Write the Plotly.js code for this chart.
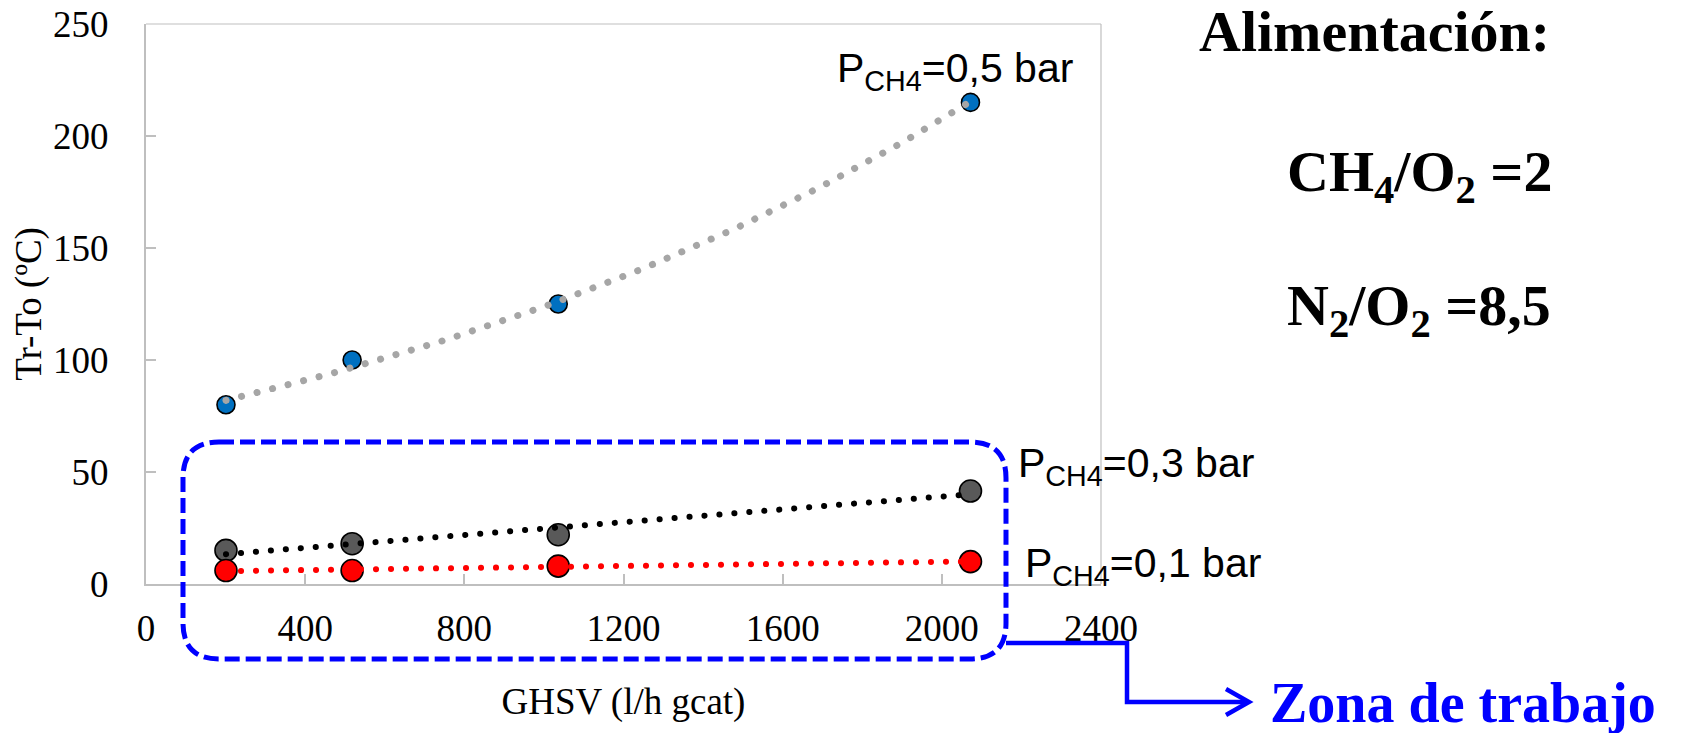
<!DOCTYPE html>
<html><head><meta charset="utf-8">
<script src="https://cdn.plot.ly/plotly-3.0.1.min.js"></script>
<style>
html,body{margin:0;padding:0;background:#fff;}
#chart{width:1687px;height:733px;}
.scatterlayer .js-line{stroke-linecap:round;}
</style></head>
<body><div id="chart"></div>
<script>
// ---- data ----
const ghsv   = [201, 518, 1036, 2072];          // GHSV (l/h gcat)
const dT_05  = [80, 100, 125, 215];             // Tr-To (ºC), PCH4 = 0,5 bar
const dT_03  = [15, 18, 22, 41.5];              // PCH4 = 0,3 bar
const dT_01  = [6, 6, 8, 10];                   // PCH4 = 0,1 bar
const seriesLabels = ['P<sub>CH4</sub>=0,5 bar', 'P<sub>CH4</sub>=0,3 bar', 'P<sub>CH4</sub>=0,1 bar'];
const xTicks = [0, 400, 800, 1200, 1600, 2000, 2400];
const yTicks = [0, 50, 100, 150, 200, 250];
const feedTitle = 'Alimentación:';
const feedRatios = ['CH<sub>4</sub>/O<sub>2</sub> =2', 'N<sub>2</sub>/O<sub>2</sub> =8,5'];
const zoneLabel = 'Zona de trabajo';
const xTitle = 'GHSV (l/h gcat)';
const yTitle = 'Tr-To (ºC)';

// ---- least-squares trendlines (as in the spreadsheet) ----
function linFit(x, y) {
  const n = x.length, mx = x.reduce((a,b)=>a+b,0)/n, my = y.reduce((a,b)=>a+b,0)/n;
  let sxy = 0, sxx = 0;
  for (let i = 0; i < n; i++) { sxy += (x[i]-mx)*(y[i]-my); sxx += (x[i]-mx)*(x[i]-mx); }
  const b = sxy/sxx; return {a: my - b*mx, b: b};
}
function expFit(x, y) {
  const f = linFit(x, y.map(Math.log)); return {a: Math.exp(f.a), b: f.b};
}
function sampleX(x, n) {
  const lo = Math.min(...x), hi = Math.max(...x), out = [];
  for (let i = 0; i <= n; i++) out.push(lo + (hi-lo)*i/n);
  return out;
}
const eF = expFit(ghsv, dT_05);
const tx5 = sampleX(ghsv, 80), ty5 = tx5.map(v => eF.a*Math.exp(eF.b*v));
const l3 = linFit(ghsv, dT_03), l1 = linFit(ghsv, dT_01);
const txL = sampleX(ghsv, 1);
const ty3 = txL.map(v => l3.a + l3.b*v), ty1 = txL.map(v => l1.a + l1.b*v);

const mk = (c, s) => ({color: c, size: s, line: {color: '#000', width: 1.6}});
const traces = [
  {x: ghsv, y: dT_05, mode: 'markers', marker: mk('#0070C0', 18), name: '0,5 bar'},
  {x: ghsv, y: dT_03, mode: 'markers', marker: mk('#595959', 22), name: '0,3 bar'},
  {x: ghsv, y: dT_01, mode: 'markers', marker: mk('#FF0000', 22), name: '0,1 bar'},
  {x: tx5, y: ty5, mode: 'lines', line: {color: '#A6A6A6', width: 7, dash: '0.1px,15.9px'}, name: 'exp 0,5'},
  {x: txL, y: ty3, mode: 'lines', line: {color: '#000000', width: 6, dash: '0.1px,14.9px'}, name: 'lin 0,3'},
  {x: txL, y: ty1, mode: 'lines', line: {color: '#FF0000', width: 6, dash: '0.1px,14.9px'}, name: 'lin 0,1'}
];

// ---- layout (pixel helpers for decorations) ----
const W = 1687, H = 733, L = 146, R = 1101, T = 24, B = 584;
const px = p => (p - L)/(R - L);
const py = p => (B - p)/(B - T);
const P = (x, y) => px(x).toFixed(5) + ',' + py(y).toFixed(5);

const bx0 = 183, bx1 = 1006, by0 = 442, by1 = 659, rr = 36;
const boxPath = 'M' + P(bx0+rr, by0) + ' L' + P(bx1-rr, by0) + ' Q' + P(bx1, by0) + ' ' + P(bx1, by0+rr) +
  ' L' + P(bx1, by1-rr) + ' Q' + P(bx1, by1) + ' ' + P(bx1-rr, by1) +
  ' L' + P(bx0+rr, by1) + ' Q' + P(bx0, by1) + ' ' + P(bx0, by1-rr) +
  ' L' + P(bx0, by0+rr) + ' Q' + P(bx0, by0) + ' ' + P(bx0+rr, by0) + ' Z';
const arrowPath = 'M' + P(bx1, 643) + ' L' + P(1127, 643) + ' L' + P(1127, 702) + ' L' + P(1247, 702);
const headPath = 'M' + P(1226, 689) + ' L' + P(1249, 702) + ' L' + P(1226, 715);

const serif = 'Liberation Serif, Times New Roman, serif';
const sans = 'Liberation Sans, Arial, sans-serif';
const ann = (text, x, y, font) => ({text: text, xref: 'paper', yref: 'paper', x: px(x), y: py(y),
  xanchor: 'left', yanchor: 'middle', showarrow: false, font: font});
const labFont = {family: sans, size: 41, color: '#000'};
const feedFont = {family: serif, size: 58, color: '#000', weight: 'bold'};

const layout = {
  width: W, height: H,
  margin: {l: L, r: W - R, t: T, b: H - B, pad: 0},
  paper_bgcolor: '#fff', plot_bgcolor: '#fff',
  showlegend: false, hovermode: false,
  xaxis: {
    range: [0, 2400], tickvals: xTicks, ticktext: xTicks.map(String),
    ticks: 'inside', ticklen: 10, tickwidth: 2, tickcolor: '#BFBFBF',
    showline: true, linecolor: '#BFBFBF', linewidth: 2, showgrid: false, zeroline: false,
    tickfont: {family: serif, size: 37, color: '#000'}, ticklabelstandoff: 11,
    title: {text: xTitle, font: {family: serif, size: 37, color: '#000'}, standoff: 40},
    automargin: false, fixedrange: true
  },
  yaxis: {
    range: [0, 250], tickvals: yTicks, ticktext: yTicks.map(String),
    ticks: 'inside', ticklen: 10, tickwidth: 2, tickcolor: '#BFBFBF',
    showline: true, linecolor: '#BFBFBF', linewidth: 2, showgrid: false, zeroline: false,
    tickfont: {family: serif, size: 37, color: '#000'}, ticklabelstandoff: 28,
    title: {text: yTitle, font: {family: serif, size: 37, color: '#000'}, standoff: 0},
    automargin: false, fixedrange: true
  },
  shapes: [
    {type: 'line', xref: 'paper', yref: 'paper', x0: 0, x1: 1, y0: 1, y1: 1, line: {color: '#BFBFBF', width: 1.2}},
    {type: 'line', xref: 'paper', yref: 'paper', x0: 1, x1: 1, y0: 0, y1: 1, line: {color: '#BFBFBF', width: 1.2}},
    {type: 'path', xref: 'paper', yref: 'paper', path: boxPath, line: {color: '#0000FF', width: 5, dash: '15px,6px'}, layer: 'above'},
    {type: 'path', xref: 'paper', yref: 'paper', path: arrowPath, line: {color: '#0000FF', width: 4.5}, layer: 'above'},
    {type: 'path', xref: 'paper', yref: 'paper', path: headPath, line: {color: '#0000FF', width: 4.5}, layer: 'above'}
  ],
  annotations: [
    ann(seriesLabels[0], 835, 71, labFont),
    ann(seriesLabels[1], 1016, 466, labFont),
    ann(seriesLabels[2], 1023, 566, labFont),
    ann(feedTitle, 1197, 32, feedFont),
    ann(feedRatios[0], 1285, 175, feedFont),
    ann(feedRatios[1], 1285, 309, feedFont),
    ann(zoneLabel, 1268, 703, {family: serif, size: 56, color: '#0000FF', weight: 'bold'})
  ]
};

Plotly.newPlot('chart', traces, layout, {staticPlot: true, displayModeBar: false});
</script>
</body></html>
